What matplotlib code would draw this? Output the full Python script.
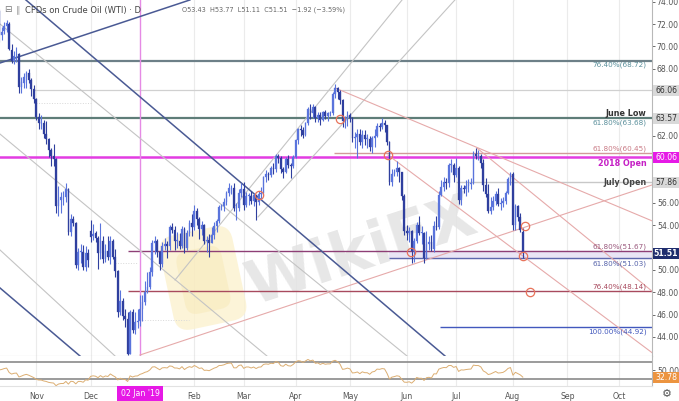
import matplotlib
matplotlib.use('Agg')
import matplotlib.pyplot as plt
import numpy as np
import pandas as pd
from matplotlib.patches import Rectangle, FancyBboxPatch
import matplotlib.transforms as mtransforms

W, H = 679, 401

# ---------------- data ----------------
holidays = ['2018-12-25', '2019-01-01']
warmup_closes = [68.59, 68.99, 68.91, 69.85, 71.12, 70.80, 70.78, 72.08, 72.28, 71.57,
                 72.12, 73.25, 75.30, 75.23, 76.41, 74.33, 74.34, 74.29, 74.96, 73.17]

opens = [
    73.2, 71.0, 71.4, 71.8, 72.0, 69.7, 68.7, 69.2, 69.3, 66.4, 66.7, 67.3, 67.6, 67.0, 66.2,
    65.3, 63.7, 63.1, 63.1, 62.2, 61.7, 60.7, 60.2, 59.9, 55.7, 56.3, 56.5, 56.5, 57.2, 53.4, 54.6, 54.2, 50.4, 51.6, 51.6, 50.3, 51.5,
    53.5, 53.0, 53.3, 52.9, 51.5, 52.6, 51.0, 51.7, 51.2, 52.6, 51.2, 49.9, 46.2, 47.2, 45.9, 45.6, 42.5, 46.2, 44.6, 45.3,
    45.4, 46.5, 47.1, 48.0, 48.5, 49.8, 52.4, 52.6, 51.6, 50.5, 52.1, 52.3, 52.1, 53.8, 53.6, 52.6, 52.6, 52.1, 53.7, 52.0, 53.3, 54.2,
    53.8, 55.3, 54.6, 53.7, 54.0, 52.6, 52.7, 52.4, 53.1, 53.9, 54.4, 55.6, 55.7, 56.1, 56.9, 57.3, 57.3, 55.5, 55.5, 56.9,
    57.2, 55.8, 56.6, 56.6, 56.2, 56.7, 56.1, 56.8, 56.9, 58.3, 58.6, 58.5, 59.1, 59.0, 60.2, 60.0, 59.0, 58.8, 59.9, 59.4, 59.3,
    60.1, 61.6, 62.6, 62.5, 62.1, 63.1, 64.4, 64.0, 64.6, 63.6, 63.9, 63.4, 64.1, 63.8, 64.0, 64.0, 65.7, 66.3, 65.9, 65.2, 63.3, 63.5,
    63.9, 63.6, 61.8, 61.9, 62.2, 61.4, 62.1, 61.7, 61.7, 61.0, 61.8, 62.0, 62.9, 62.8, 63.1, 63.0, 61.4, 57.9, 58.6, 58.8, 59.1, 58.8, 56.6,
    53.5, 53.3, 53.5, 51.7, 52.6, 54.0, 53.3, 53.3, 51.1, 52.3, 52.5, 51.9, 53.9, 53.8, 56.7, 57.4, 57.9, 57.8, 59.4, 59.4,
    58.5, 59.1, 56.3, 57.3, 57.2, 57.5, 57.7, 57.8, 60.4, 60.2, 60.2, 59.6, 57.6, 56.8, 55.3, 55.6, 56.2, 56.8, 55.9, 56.0, 56.2, 56.9, 58.1,
    58.6, 54.0, 55.7, 54.7, 53.43]
highs = [
    73.3, 71.7, 72.2, 72.4, 72.2, 70.2, 69.6, 69.9, 69.4, 67.3, 67.6, 67.8, 68.0, 67.2, 66.5,
    65.4, 64.0, 63.9, 63.4, 63.3, 61.8, 60.9, 61.3, 60.0, 57.5, 57.0, 57.1, 57.8, 57.3, 55.0, 54.8, 54.3, 52.0, 52.3, 52.2, 52.1, 51.9,
    54.5, 54.1, 53.5, 53.0, 54.2, 53.0, 52.3, 53.0, 53.0, 52.8, 51.9, 50.0, 48.2, 47.5, 46.5, 46.2, 46.4, 46.5, 46.2, 46.5,
    47.8, 47.8, 49.0, 49.8, 50.3, 52.7, 53.0, 52.8, 51.7, 52.5, 52.9, 52.6, 54.0, 54.2, 53.9, 53.4, 53.3, 53.9, 53.8, 53.6, 54.5, 55.0,
    55.8, 55.5, 54.7, 54.4, 54.1, 53.0, 53.2, 53.8, 54.3, 54.6, 55.8, 55.9, 56.4, 57.1, 57.8, 57.6, 57.8, 56.0, 57.2, 57.8,
    57.9, 57.0, 56.9, 57.1, 56.9, 56.7, 57.1, 57.4, 58.4, 58.9, 58.8, 59.3, 59.6, 60.4, 60.4, 60.2, 59.2, 60.1, 60.3, 59.6, 60.3,
    61.7, 62.7, 63.0, 62.8, 63.2, 64.6, 64.8, 64.8, 64.7, 64.1, 64.1, 64.2, 64.3, 64.1, 64.2, 65.9, 66.6, 66.4, 66.1, 65.3, 63.8, 64.2,
    64.0, 63.7, 62.3, 62.6, 62.6, 62.5, 62.5, 62.2, 62.0, 62.0, 62.6, 63.1, 63.1, 63.6, 63.4, 63.0, 61.5, 59.0, 59.0, 59.7, 59.2, 58.8, 56.8,
    54.0, 53.8, 53.6, 52.9, 54.3, 54.8, 53.9, 53.4, 53.5, 53.0, 53.1, 54.4, 54.8, 57.1, 58.0, 58.3, 58.2, 59.6, 59.9, 59.6,
    60.0, 59.3, 57.6, 57.6, 58.0, 58.1, 58.2, 60.6, 60.9, 60.7, 60.4, 59.9, 58.2, 57.7, 56.5, 56.6, 57.1, 57.3, 56.4, 56.5, 57.1, 58.3, 58.8,
    58.8, 55.9, 55.8, 55.1, 53.77]
lows = [
    70.4, 70.6, 71.1, 71.3, 69.7, 68.5, 68.4, 68.6, 65.8, 65.8, 66.3, 66.3, 66.7, 65.6, 64.9,
    63.4, 62.6, 62.6, 61.8, 61.3, 60.1, 59.3, 59.3, 55.1, 54.8, 55.1, 55.8, 56.1, 53.1, 53.0, 53.9, 50.2, 50.0, 50.6, 50.0, 49.9, 50.3,
    52.5, 52.7, 52.5, 50.1, 51.0, 50.6, 50.7, 50.9, 50.5, 51.0, 49.4, 45.8, 46.0, 45.5, 44.9, 42.4, 42.5, 44.4, 44.3, 44.8,
    45.0, 45.4, 46.9, 47.9, 48.3, 49.5, 51.4, 51.2, 50.0, 50.3, 51.8, 51.1, 51.8, 53.3, 51.8, 52.0, 51.9, 52.0, 51.5, 51.8, 53.0, 53.0,
    53.6, 54.0, 52.8, 53.1, 52.3, 51.6, 51.2, 52.4, 52.8, 53.4, 54.2, 55.4, 55.3, 55.8, 56.6, 56.8, 55.3, 54.5, 55.3, 56.5,
    55.4, 55.6, 55.8, 55.9, 55.7, 54.5, 55.8, 56.3, 56.7, 57.9, 58.0, 58.3, 58.6, 58.8, 59.6, 58.7, 58.2, 58.7, 59.1, 58.2, 59.1,
    60.0, 61.3, 62.0, 61.8, 62.0, 63.0, 63.5, 63.6, 63.2, 63.2, 63.0, 63.3, 63.5, 63.3, 63.8, 63.9, 65.4, 65.3, 64.8, 62.8, 62.7, 62.9,
    63.2, 61.4, 60.9, 60.0, 61.2, 60.9, 61.2, 60.9, 60.6, 60.5, 61.0, 61.9, 62.4, 62.6, 62.3, 61.2, 57.6, 57.5, 58.4, 58.4, 57.9, 56.3, 53.1,
    52.7, 52.5, 50.6, 50.7, 52.4, 53.1, 52.3, 50.6, 51.0, 51.8, 51.7, 51.6, 53.6, 53.7, 56.6, 57.1, 57.2, 57.4, 58.8, 57.9,
    58.3, 55.9, 55.8, 56.9, 56.6, 57.0, 57.2, 57.7, 59.9, 59.8, 59.1, 57.1, 56.5, 55.1, 55.0, 55.4, 55.8, 55.7, 55.4, 55.6, 55.9, 56.8, 57.6,
    53.6, 53.6, 54.4, 53.4, 51.11]
closes = [
    71.0, 71.3, 71.8, 72.1, 69.8, 68.7, 69.1, 69.2, 66.4, 66.8, 67.3, 67.6, 67.0, 66.2, 65.3,
    63.7, 63.1, 63.1, 62.2, 61.7, 60.7, 60.2, 59.9, 55.7, 56.3, 56.5, 56.5, 57.2, 53.4, 54.6, 54.2, 50.4, 51.6, 51.6, 50.3, 51.5, 50.9,
    52.95, 53.25, 52.9, 51.5, 52.6, 51.0, 51.7, 51.2, 52.6, 51.2, 49.9, 46.2, 47.2, 45.9, 45.6, 42.5, 46.2, 44.6, 45.3, 45.4,
    46.5, 47.1, 48.0, 48.5, 49.8, 52.4, 52.6, 51.6, 50.5, 52.1, 52.3, 52.1, 53.8, 53.6, 52.6, 52.6, 52.1, 53.7, 52.0, 53.3, 54.2, 53.8,
    55.3, 54.6, 53.7, 54.0, 52.6, 52.7, 52.4, 53.1, 53.9, 54.4, 55.6, 55.7, 56.1, 56.9, 57.3, 57.3, 55.5, 55.5, 56.9, 57.2,
    55.8, 56.6, 56.6, 56.2, 56.7, 56.1, 56.8, 56.9, 58.3, 58.6, 58.5, 59.1, 59.0, 60.2, 60.0, 59.0, 58.8, 59.9, 59.4, 59.3, 60.1,
    61.6, 62.6, 62.5, 62.1, 63.1, 64.4, 64.0, 64.6, 63.6, 63.9, 63.4, 64.1, 63.8, 64.0, 64.0, 65.7, 66.3, 65.9, 65.2, 63.3, 63.5, 63.9,
    63.6, 61.8, 61.9, 62.2, 61.4, 62.1, 61.7, 61.7, 61.0, 61.8, 62.0, 62.9, 62.8, 63.1, 63.0, 61.4, 57.9, 58.6, 58.8, 59.1, 58.8, 56.6, 53.5,
    53.3, 53.5, 51.7, 52.6, 54.0, 53.3, 53.3, 51.1, 52.3, 52.5, 51.9, 53.9, 53.8, 56.7, 57.4, 57.9, 57.8, 59.4, 59.4, 58.5,
    59.1, 56.3, 57.3, 57.2, 57.5, 57.7, 57.8, 60.4, 60.2, 60.2, 59.6, 57.6, 56.8, 55.3, 55.6, 56.2, 56.8, 55.9, 56.0, 56.2, 56.9, 58.1, 58.6,
    54.0, 55.7, 54.7, 53.6, 51.51]

fib_6872 = 68.72
level_6606 = 66.06
june_low = 63.57
fib_6368 = 63.68
fib_6045 = 60.45
open_2018 = 60.06
july_open = 57.86
fib_5167 = 51.67
fib_5103 = 51.03
fib_4814 = 48.14
fib_4492 = 44.92
last_close = 51.51
rsi_last = 32.78

price_ticks = [74, 72, 70, 68, 62, 56, 54, 50, 48, 46, 44]
month_labels = ['Nov', 'Dec', 'Feb', 'Mar', 'Apr', 'May', 'Jun', 'Jul', 'Aug', 'Sep', 'Oct']
month_dates = ['2018-11-01', '2018-12-03', '2019-02-01', '2019-03-01', '2019-04-01', '2019-05-01',
               '2019-06-03', '2019-07-01', '2019-08-01', '2019-09-02', '2019-10-01']

# drawn trend lines in (bar index, price)
dark_lines = [((-46.2, 74.15), (123.5, 42.3)), ((-56.7, 48.39), (-24.3, 42.3)), ((-56.7, 68.51), (20.2, 74.15))]
gray_lines = [((-64.8, 73.46), (108.1, 42.3)), ((-56.7, 62.16), (51.4, 42.3)), ((-56.7, 51.79), (-10.1, 42.3)),
              ((14.2, 49.10), (106.1, 74.15)), ((47.8, 54.74), (127.5, 74.15))]
rose_lines = [((79.0, 66.28), (207.3, 54.39)), ((0.0, 42.39), (207.3, 57.6)), ((136.4, 60.91), (207.3, 48.1)),
              ((100.4, 60.28), (207.3, 42.6))]
circles = [(48.2, 56.70), (81.0, 63.50), (100.4, 60.28), (109.7, 51.61), (155.9, 53.93), (157.9, 48.03), (155.1, 51.25)]

# ---------------- dates / index ----------------
all_days = pd.bdate_range('2018-09-13', '2019-10-31')
all_days = all_days[~all_days.isin(pd.to_datetime(holidays))]
pos = {d: k for k, d in enumerate(all_days)}
zero = pos[pd.Timestamp('2019-01-02')]
start = pos[pd.Timestamp('2018-10-11')]
n = len(closes)
xs = np.arange(start, start + n) - zero

def idx(d):
    return pos[pd.Timestamp(d)] - zero

# RSI (Wilder, 14)
c_all = np.array(warmup_closes + closes, dtype=float)
d = np.diff(c_all)
g = np.where(d > 0, d, 0.0)
l = np.where(d < 0, -d, 0.0)
ag, al = g[:14].mean(), l[:14].mean()
rsi = [np.nan] * 14
for k in range(14, len(d)):
    ag = (ag * 13 + g[k]) / 14
    al = (al * 13 + l[k]) / 14
    rsi.append(100 - 100 / (1 + ag / al) if al > 0 else 100)
rsi = np.array([np.nan] + rsi)[len(warmup_closes):]

# ---------------- figure ----------------
fig = plt.figure(figsize=(W / 100, H / 100), dpi=100)
fig.patch.set_facecolor('white')
ax = fig.add_axes([0, 1 - 356 / H, 652 / W, 356 / H])
rax = fig.add_axes([0, 15 / H, 652 / W, 30 / H])
XL = (-56.68, 207.3)
ax.set_xlim(*XL)
ax.set_ylim(42.30, 74.147)
rax.set_xlim(*XL)
rax.set_ylim(13.5, 84.1)

for a in (ax, rax):
    for s in ('top', 'left', 'bottom'):
        a.spines[s].set_visible(False)
    a.spines['right'].set_color('#b8b8b8')
    a.spines['right'].set_linewidth(0.8)
ax.spines['bottom'].set_visible(True)
ax.spines['bottom'].set_color('#b8b8b8')
rax.spines['bottom'].set_visible(True)
rax.spines['bottom'].set_color('#e2e2e2')

mx = [idx(m) for m in month_dates]
for a in (ax, rax):
    for x in mx:
        a.axvline(x, color='#ebebeb', lw=0.8, zorder=0)

# watermark (pixel space -> display space)
rot = mtransforms.Affine2D().rotate_deg_around(203, H - 278, 12)
ax.add_patch(FancyBboxPatch((166, H - 326), 74, 96, boxstyle='round,pad=0,rounding_size=16',
                            fc='#fcf2cf', ec='none', alpha=0.8, zorder=0.5, transform=rot))
ax.add_patch(FancyBboxPatch((180, H - 312), 46, 64, boxstyle='round,pad=0,rounding_size=12',
                            fc='#f7e7b4', ec='none', alpha=0.45, zorder=0.55, transform=rot))
ax.text(89.9, 51.6, 'WikiFX', fontsize=44, fontweight='bold', color='#e3e3e3', alpha=0.85,
        rotation=18, ha='center', va='center', zorder=0.6)

x_band0 = 101
ax.fill_between([x_band0, XL[1]], fib_5103, fib_5167, color='#e9e5f5', zorder=1)

ax.axhline(fib_6872, color='#6d8088', lw=1.6, zorder=2)
ax.hlines(level_6606, -43, XL[1], color='#d0d0d0', lw=0.9, zorder=2)
ax.axhline(june_low, color='#5e7d78', lw=1.6, zorder=2)
ax.hlines(fib_6045, 78.5, XL[1], color='#d29a9a', lw=1.0, zorder=2)
ax.axhline(open_2018, color='#e23ce2', lw=1.8, zorder=2)
ax.hlines(july_open, idx('2019-07-01'), XL[1], color='#c8c8c8', lw=1.0, zorder=2)
ax.hlines(fib_5167, -5, XL[1], color='#8e3f76', lw=1.0, zorder=2)
ax.hlines(fib_5103, x_band0, XL[1], color='#5d67ad', lw=1.0, zorder=2)
ax.hlines(fib_4814, -5, XL[1], color='#a84a5e', lw=1.0, zorder=2)
ax.hlines(fib_4492, 121.5, XL[1], color='#4258bd', lw=1.0, zorder=2)
ax.hlines(64.9, -42, -20, color='#d8d8d8', lw=0.7, linestyles=':', zorder=2)
ax.hlines(50.6, -10, -1, color='#d8d8d8', lw=0.7, linestyles=':', zorder=2)
ax.hlines(45.5, 1, 20, color='#d8d8d8', lw=0.7, linestyles=':', zorder=2)

ax.axvline(0, color='#e58ae5', lw=1.0, zorder=2)

for (p0, p1) in gray_lines:
    ax.plot([p0[0], p1[0]], [p0[1], p1[1]], color='#c4c4c4', lw=0.8, zorder=2)
for (p0, p1) in rose_lines:
    ax.plot([p0[0], p1[0]], [p0[1], p1[1]], color='#e6aaaa', lw=0.8, zorder=2)
for (p0, p1) in dark_lines:
    ax.plot([p0[0], p1[0]], [p0[1], p1[1]], color='#4a5a94', lw=1.1, zorder=2)

o = np.array(opens); h = np.array(highs); lo = np.array(lows); c = np.array(closes)
up = c >= o
col = np.where(up, '#5a74dc', '#2f3f9e')
ax.vlines(xs, lo, h, colors=col, lw=0.8, zorder=3)
body_b = np.minimum(o, c)
body_h = np.maximum(np.abs(c - o), 0.06)
ax.bar(xs, body_h, bottom=body_b, width=0.7, color=col, edgecolor=col, lw=0.2, zorder=4)

for (cx, cy) in circles:
    ax.plot(cx, cy, 'o', ms=6, mfc='none', mec='#e8735a', mew=0.9, zorder=5)

def lvl_label(p, text, color, dy, bold=False, size=5.2):
    ax.annotate(text, xy=(1, p), xycoords=('axes fraction', 'data'), xytext=(-4, dy),
                textcoords='offset points', ha='right', va='center', fontsize=size, color=color,
                fontweight='bold' if bold else 'normal', zorder=6)

lvl_label(fib_6872, '76.40%(68.72)', '#5a8f9b', -3)
lvl_label(june_low, 'June Low', '#333333', 3.5, bold=True, size=5.8)
lvl_label(fib_6368, '61.80%(63.68)', '#5a8f9b', -4)
lvl_label(fib_6045, '61.80%(60.45)', '#c97a85', 3)
lvl_label(open_2018, '2018 Open', '#c51fc5', -4, bold=True, size=5.8)
lvl_label(july_open, 'July Open', '#444444', 0, bold=True, size=5.8)
lvl_label(fib_5167, '61.80%(51.67)', '#9b5a7e', 3)
lvl_label(fib_5103, '61.80%(51.03)', '#5663aa', -3.5)
lvl_label(fib_4814, '76.40%(48.14)', '#a84a5e', 3)
lvl_label(fib_4492, '100.00%(44.92)', '#4258bd', -3.5)

ax.yaxis.tick_right()
ax.set_yticks(price_ticks)
ax.set_yticklabels([f'{t:.2f}' for t in price_ticks])
ax.tick_params(axis='y', length=2, width=0.6, pad=1.5, labelsize=5.6, colors='#555555')
ax.tick_params(axis='x', bottom=False, labelbottom=False)

def price_box(a, p, text, fc, tc, bold=False):
    yd = a.transData.transform((0, p))[1]
    yf = yd / H
    fig.add_artist(Rectangle((653 / W, yf - 5.5 / H), 26 / W, 11 / H, transform=fig.transFigure,
                             fc=fc, ec='none', zorder=10))
    fig.text(666 / W, yf, text, ha='center', va='center', fontsize=5.6, color=tc,
             fontweight='bold' if bold else 'normal', zorder=11)

price_box(ax, level_6606, '66.06', '#d9d9d9', '#333333')
price_box(ax, june_low, '63.57', '#d9d9d9', '#333333')
price_box(ax, open_2018, '60.06', '#e619e6', 'white')
price_box(ax, july_open, '57.86', '#d9d9d9', '#333333')
price_box(ax, last_close, '51.51', '#1f2d6e', 'white', bold=True)

rax.plot(xs, rsi, color='#dcae72', lw=0.7, zorder=3)
rax.axhline(70, color='#8a8a8a', lw=1.2, zorder=2)
rax.axhline(30, color='#8a8a8a', lw=1.2, zorder=2)
rax.yaxis.tick_right()
rax.set_yticks([50])
rax.set_yticklabels(['50.00'])
rax.tick_params(axis='y', length=2, width=0.6, pad=1.5, labelsize=5.6, colors='#555555')
price_box(rax, rsi_last, '32.78', '#ec9440', 'white')

rax.set_xticks(mx)
rax.set_xticklabels(month_labels)
rax.tick_params(axis='x', length=0, pad=4, labelsize=5.6, colors='#555555')
fig.text(140 / W, 1 - 394 / H, "02 Jan '19", ha='center', va='center', fontsize=5.6, color='white',
         bbox=dict(boxstyle='square,pad=0.45', fc='#e619e6', ec='none'), zorder=12)
fig.text(667 / W, 1 - 394 / H, '\u2699', ha='center', va='center', fontsize=8, color='#555555')

fig.text(4 / W, 1 - 10 / H, '\u229f', ha='left', va='center', fontsize=6.5, color='#777777')
fig.text(16 / W, 1 - 10 / H, '\u2225', ha='left', va='center', fontsize=6.5, color='#999999')
fig.text(25 / W, 1 - 10 / H, 'CFDs on Crude Oil (WTI) \u00b7 D', ha='left', va='center', fontsize=6.0,
         color='#444444')
fig.text(182 / W, 1 - 10 / H, 'O53.43  H53.77  L51.11  C51.51  \u22121.92 (\u22123.59%)', ha='left',
         va='center', fontsize=4.7, color='#666666')

fig.savefig('out.png', dpi=100)
